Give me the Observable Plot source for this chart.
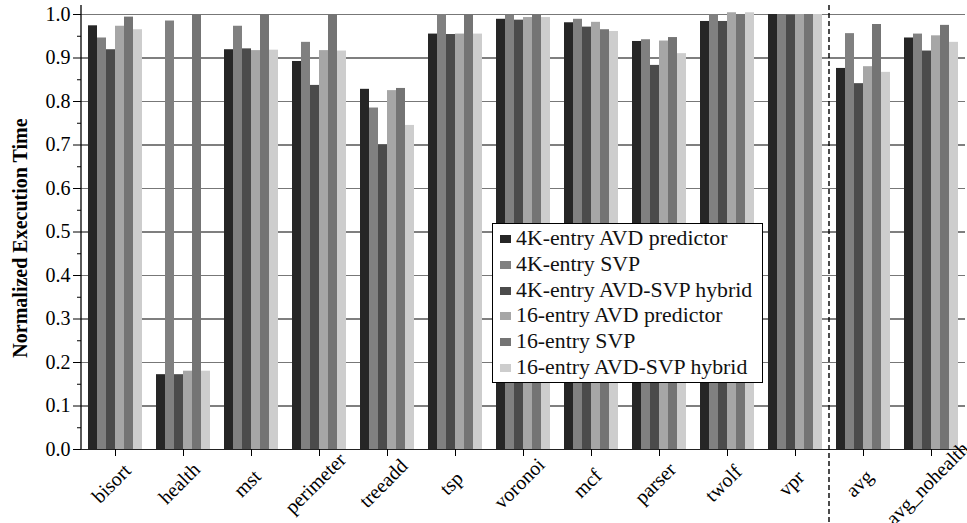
<!DOCTYPE html>
<html><head><meta charset="utf-8">
<script src="https://cdn.jsdelivr.net/npm/d3@7"></script>
<script src="https://cdn.jsdelivr.net/npm/@observablehq/plot@0.6"></script>
<style>
body{margin:0;background:#fff;}
#wrap{position:relative;width:967px;height:523px;overflow:hidden;font-family:"Liberation Serif","Times New Roman",serif;}
#legend{position:absolute;left:492px;top:223px;width:271px;height:160px;border:1.3px solid #000;background:#fff;padding-top:2px;box-sizing:border-box;}
#legend .row{height:25.8px;line-height:25.8px;font-size:21.8px;white-space:nowrap;color:#111;}
#legend .sw{display:inline-block;width:11px;height:8px;margin-left:7px;margin-right:5px;vertical-align:middle;position:relative;top:-1px;}
</style>
</head><body>
<div id="wrap"></div>
<script>
const benchmarks = ["bisort","health","mst","perimeter","treeadd","tsp","voronoi","mcf","parser","twolf","vpr","avg","avg_nohealth"];
const seriesNames = ["4K-entry AVD predictor","4K-entry SVP","4K-entry AVD-SVP hybrid","16-entry AVD predictor","16-entry SVP","16-entry AVD-SVP hybrid"];
const seriesColors = ["#262626","#808080","#4b4b4b","#a6a6a6","#747474","#cdcdcd"];
const avd4k = [0.974,0.172,0.919,0.892,0.828,0.955,0.989,0.981,0.938,0.984,1.000,0.876,0.946];
const svp4k = [0.946,0.985,0.973,0.936,0.785,1.000,0.998,0.989,0.942,1.000,0.998,0.956,0.955];
const hyb4k = [0.919,0.172,0.921,0.837,0.700,0.954,0.987,0.971,0.883,0.984,0.998,0.841,0.916];
const avd16 = [0.973,0.180,0.917,0.917,0.825,0.955,0.993,0.982,0.939,1.004,1.000,0.880,0.951];
const svp16 = [0.994,1.000,1.000,1.000,0.830,1.000,0.998,0.965,0.947,1.000,1.000,0.977,0.975];
const hyb16 = [0.965,0.180,0.918,0.916,0.745,0.955,0.993,0.961,0.910,1.004,1.000,0.867,0.936];
const majorTicks = [0,0.1,0.2,0.3,0.4,0.5,0.6,0.7,0.8,0.9,1.0];
const minorTicks = [0.05,0.15,0.25,0.35,0.45,0.55,0.65,0.75,0.85,0.95];
const separatorBefore = "avg";

const seriesValues = [avd4k, svp4k, hyb4k, avd16, svp16, hyb16];
const rows = [];
benchmarks.forEach((b, i) => seriesValues.forEach((arr, j) => rows.push({benchmark: b, series: seriesNames[j], value: arr[i]})));

const gridColor = d => d === 0 ? "#222" : (Math.round(d * 10) % 2 ? "#000" : "#777");

const plot = Plot.plot({
  width: 967, height: 523,
  marginTop: 14, marginBottom: 74, marginLeft: 79, marginRight: 0,
  style: {fontFamily: "'Liberation Serif','Times New Roman',serif", fontSize: "20px", color: "#000", background: "transparent"},
  fx: {domain: benchmarks, padding: 0, label: null, axis: null},
  x: {domain: seriesNames, paddingInner: 0, paddingOuter: 0.415, axis: null},
  y: {domain: [0, 1], label: null},
  color: {domain: seriesNames, range: seriesColors},
  marks: [
    Plot.ruleY(majorTicks, {y: d => d, stroke: gridColor, strokeWidth: 1.2}),
    Plot.barY(rows, {fx: "benchmark", x: "series", y: "value", fill: "series"}),
    Plot.axisY({ticks: majorTicks, tickFormat: d3.format(".1f"), tickSize: 8, tickPadding: 3,
      label: "Normalized Execution Time", labelAnchor: "center", labelArrow: "none", labelOffset: 69}),
    Plot.axisY({ticks: minorTicks, tickSize: 4, tickFormat: () => "", label: null}),
    Plot.axisFx({anchor: "bottom", tickSize: 7, tickFormat: () => "", label: null}),
    Plot.axisFx({anchor: "bottom", tickRotate: -45, tickSize: 0, tickPadding: 34, dx: -4,
      textAnchor: "middle", lineAnchor: "middle", label: null})
  ]
});

document.getElementById("wrap").appendChild(plot);
const svg = d3.select(plot);
svg.style("position", "absolute").style("left", "0px").style("top", "0px").style("overflow", "visible");
svg.selectAll('g[aria-label="y-axis label"] text')
  .attr("font-weight", "bold").attr("font-size", "20px")
  .attr("transform", function() { const t = this.getAttribute("transform") || ""; return t + " translate(-6,0)"; });

// axis line and separator, positioned through Plot's scales
const fxs = plot.scale("fx");
const ys = plot.scale("y");
const x0 = fxs.apply(benchmarks[0]);
const xSep = fxs.apply(separatorBefore);
const yTop = ys.apply(1) - 9;
svg.append("line").attr("x1", x0).attr("x2", x0).attr("y1", yTop).attr("y2", ys.apply(0))
  .attr("stroke", "#000").attr("stroke-width", 1.3);
svg.append("line").attr("x1", xSep).attr("x2", xSep).attr("y1", yTop).attr("y2", 523)
  .attr("stroke", "#000").attr("stroke-width", 1.4).attr("stroke-dasharray", "5,3");

// legend
const legend = d3.select("#wrap").append("div").attr("id", "legend");
seriesNames.forEach((s, i) => {
  const r = legend.append("div").attr("class", "row");
  r.append("span").attr("class", "sw").style("background", seriesColors[i]);
  r.append("span").text(s);
});
</script>
</body></html>
